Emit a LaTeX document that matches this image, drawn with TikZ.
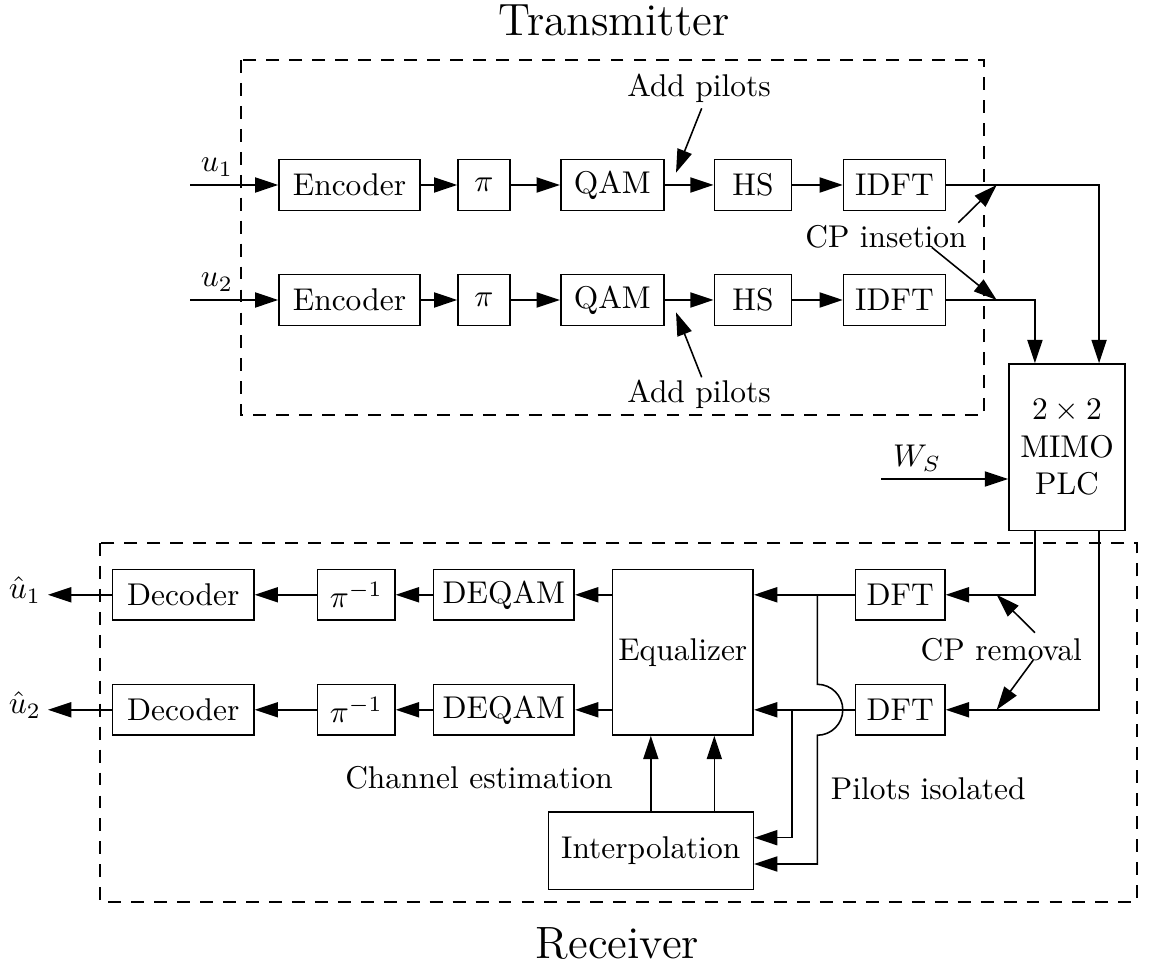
\documentclass[tikz,border=0pt]{standalone}
\usetikzlibrary{arrows.meta,calc}
\tikzset{every picture/.style={line width=0.5pt}}
\tikzset{
  block/.style={draw, minimum height=16.2pt, inner sep=0pt},
  arr/.style={-{Triangle[length=7.4pt,width=4.8pt]}},
  frame/.style={dash pattern=on 4.1pt off 3.2pt},
}

\begin{document}
\begin{tikzpicture}[x=0.318pt,y=0.318pt,yscale=-1,xscale=1]
\useasboundingbox (0,0) rectangle (1154,966);

%Shape: Rectangle [transmitter frame]
\draw [frame] (241,60) rectangle (984,415);
%Shape: Rectangle [receiver frame]
\draw [frame] (100,543) rectangle (1137,902);

% Text Node
\node [anchor=base] (txtitle) at (614,36) {\Large Transmitter};
% Text Node
\node [anchor=base] (rxtitle) at (617.5,958) {\Large Receiver};

%Blocks: transmitter, first branch
\node [block, minimum width=44.8pt] (enc1) at (349.5,185) {Encoder};
\node [block, minimum width=16.5pt] (pi1) at (484,185) {$\pi$};
\node [block, minimum width=32.8pt] (qam1) at (612.3,185) {QAM};
\node [block, minimum width=24.6pt] (hs1) at (753,185) {HS};
\node [block, minimum width=32.4pt] (idft1) at (894.5,185) {IDFT};
%Blocks: transmitter, second branch
\node [block, minimum width=44.8pt] (enc2) at (349.5,300) {Encoder};
\node [block, minimum width=16.5pt] (pi2) at (484,300) {$\pi$};
\node [block, minimum width=32.8pt] (qam2) at (612.3,300) {QAM};
\node [block, minimum width=24.6pt] (hs2) at (753,300) {HS};
\node [block, minimum width=32.4pt] (idft2) at (894.5,300) {IDFT};

%Blocks: channel
\node [block, minimum width=36.9pt, minimum height=53pt, align=center] (mimo) at (1067,447.3) {$2\times2$\\MIMO\\PLC};

%Blocks: receiver
\node [block, minimum width=28.4pt] (dft1) at (900.3,594.8) {DFT};
\node [block, minimum width=28.4pt] (dft2) at (900.3,709.8) {DFT};
\node [block, minimum width=44.8pt, minimum height=52.7pt] (eq) at (682.8,652.2) {Equalizer};
\node [block, minimum width=44.8pt] (deqam1) at (503.8,594.8) {DEQAM};
\node [block, minimum width=44.8pt] (deqam2) at (503.8,709.8) {DEQAM};
\node [block, minimum width=24.6pt] (ipi1) at (356.3,594.8) {$\pi^{-1}$};
\node [block, minimum width=24.6pt] (ipi2) at (356.3,709.8) {$\pi^{-1}$};
\node [block, minimum width=44.9pt] (dec1) at (183.3,594.8) {Decoder};
\node [block, minimum width=44.9pt] (dec2) at (183.3,709.8) {Decoder};
\node [block, minimum width=65.2pt, minimum height=24.5pt] (interp) at (650.8,850.8) {Interpolation};

%Free ends
\coordinate (u1in) at (190,185);
\coordinate (u2in) at (190,300);
\coordinate (wsin) at (881,479);
\coordinate (u1out) at (48,594.8);
\coordinate (u2out) at (48,709.8);
\coordinate (tap1) at (817.3,594.8);
\coordinate (tap2) at (791.7,709.8);

%Straight Lines: transmitter chains
\draw [arr] (u1in) -- (enc1);
\draw [arr] (enc1) -- (pi1);
\draw [arr] (pi1) -- (qam1);
\draw [arr] (qam1) -- (hs1);
\draw [arr] (hs1) -- (idft1);
\draw [arr] (u2in) -- (enc2);
\draw [arr] (enc2) -- (pi2);
\draw [arr] (pi2) -- (qam2);
\draw [arr] (qam2) -- (hs2);
\draw [arr] (hs2) -- (idft2);

%Straight Lines: into and out of the channel
\draw [arr] (idft1.east) -| ([xshift=10.2pt]mimo.north);
\draw [arr] (idft2.east) -| ([xshift=-10.2pt]mimo.north);
\draw [arr] (wsin) -- (wsin -| mimo.west);
\draw [arr] ([xshift=-10.2pt]mimo.south) |- (dft1.east);
\draw [arr] ([xshift=10.2pt]mimo.south) |- (dft2.east);

%Straight Lines: receiver chains
\draw [arr] (dft1.west) -- (dft1.west -| eq.east);
\draw [arr] (dft2.west) -- (dft2.west -| eq.east);
\draw [arr] (deqam1.east -| eq.west) -- (deqam1.east);
\draw [arr] (deqam2.east -| eq.west) -- (deqam2.east);
\draw [arr] (deqam1) -- (ipi1);
\draw [arr] (deqam2) -- (ipi2);
\draw [arr] (ipi1) -- (dec1);
\draw [arr] (ipi2) -- (dec2);
\draw [arr] (dec1) -- (u1out);
\draw [arr] (dec2) -- (u2out);

%Straight Lines: channel estimation
\draw [arr] (interp.north) -- (interp.north |- eq.south);
\draw [arr] ([xshift=20.2pt]interp.north) -- ([xshift=20.2pt]interp.north |- eq.south);
\draw [arr] (tap2) |- (interp.east |- 0,837.7);
%Curve Lines: hop over the second branch
\draw [arr] (tap1) -- (817.3,684.3) arc [start angle=-90, end angle=90, radius=8.1pt] -- (817.3,864) -- (interp.east |- 0,864);

% Text Node
\node (u1lbl) at (217,167) {$u_1$};
% Text Node
\node (u2lbl) at (217,282) {$u_2$};
% Text Node
\node (wslbl) at (917,458) {$W_S$};
% Text Node
\node (uh1lbl) at (25,590) {$\hat{u}_1$};
% Text Node
\node (uh2lbl) at (25,705) {$\hat{u}_2$};

% Text Node
\node [anchor=base] (pilots1) at (699,97) {Add pilots};
% Text Node
\node [anchor=base] (pilots2) at (699,403) {Add pilots};
% Text Node
\node [anchor=base] (cpins) at (886,248) {CP insetion};
% Text Node
\node [anchor=base] (cprem) at (1001.3,660) {CP removal};
% Text Node
\node [anchor=base] (isol) at (928.3,799) {Pilots isolated};
% Text Node
\node [anchor=base] (chest) at (479,788) {Channel estimation};

%Straight Lines: pointers from the notes
\coordinate (pa1) at (701.7,108.3);
\coordinate (pt1) at (676,172.7);
\coordinate (pa2) at (701.7,377.3);
\coordinate (pt2) at (676,312.3);
\coordinate (ca1) at (958.3,222.7);
\coordinate (ct1) at (996.7,185);
\coordinate (ca2) at (931.7,247.3);
\coordinate (ct2) at (996.7,300);
\coordinate (ra1) at (1035,632.7);
\coordinate (rt1) at (996.7,594.8);
\coordinate (ra2) at (1033.3,660);
\coordinate (rt2) at (996.7,709.8);
\draw [arr] (pa1) -- (pt1);
\draw [arr] (pa2) -- (pt2);
\draw [arr] (ca1) -- (ct1);
\draw [arr] (ca2) -- (ct2);
\draw [arr] (ra1) -- (rt1);
\draw [arr] (ra2) -- (rt2);

\end{tikzpicture}
\end{document}
